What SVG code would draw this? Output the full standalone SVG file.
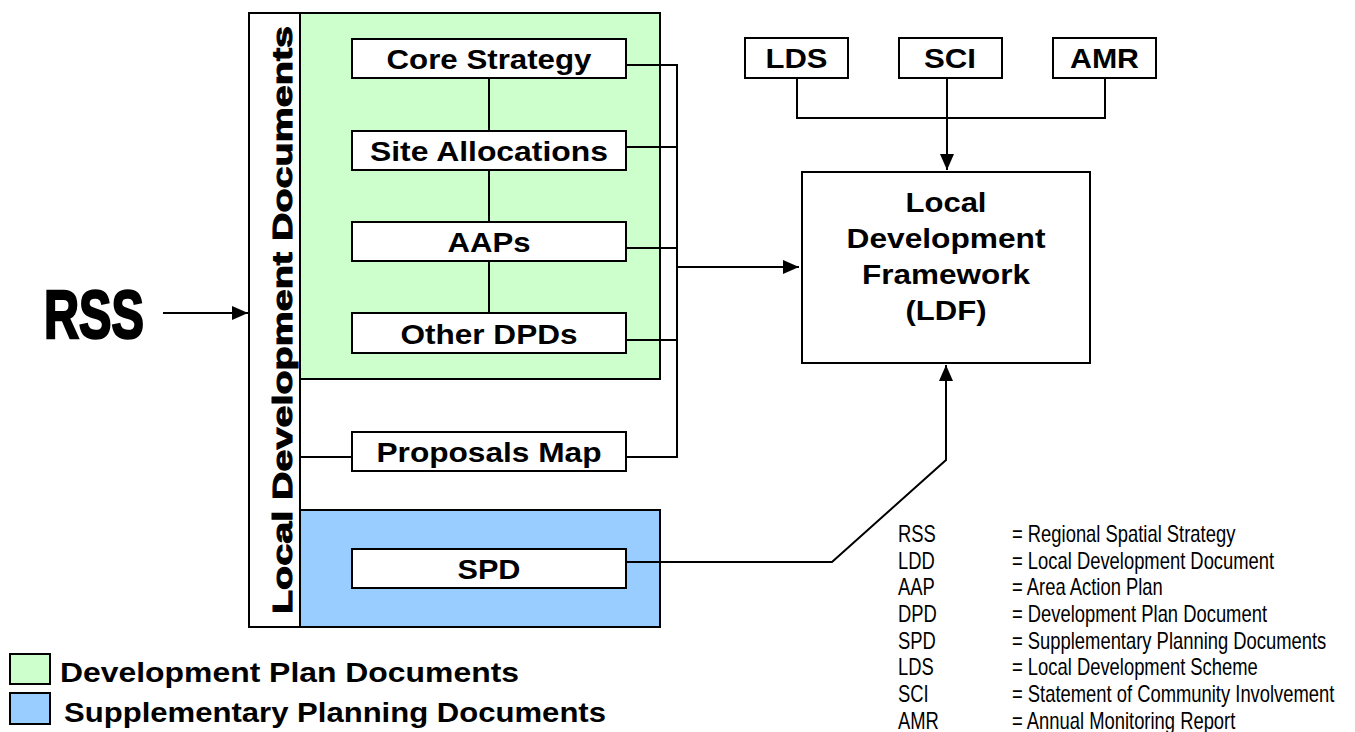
<svg xmlns="http://www.w3.org/2000/svg" width="1355" height="732" viewBox="0 0 1355 732">
<style>
.box{fill:#fff;stroke:#000;stroke-width:2}
.b{font-family:"Liberation Sans",Arial,sans-serif;font-weight:bold;font-size:28px;fill:#000;text-anchor:middle}
.ln{fill:none;stroke:#000;stroke-width:2}
.leg{font-family:"Liberation Sans",Arial,sans-serif;font-size:23px;fill:#000}
</style>
<defs>
<marker id="arr" markerUnits="userSpaceOnUse" markerWidth="18" markerHeight="14" refX="16" refY="7" orient="auto">
<path d="M0,0 L16,7 L0,14 Z" fill="#000"/>
</marker>
</defs>
<rect width="1355" height="732" fill="#fff"/>

<g id="rss">
<text x="94" y="338" font-family="'Liberation Sans',Arial,sans-serif" font-weight="bold" font-size="68" text-anchor="middle" stroke="#000" stroke-width="2.5" textLength="100" lengthAdjust="spacingAndGlyphs">RSS</text>
</g>

<g id="ldd-strip">
<rect class="box" x="249" y="13" width="51" height="614"/>
<text class="b" transform="translate(292,320) rotate(-90)" x="0" y="0" font-size="35" stroke="#000" stroke-width="1" textLength="588" lengthAdjust="spacingAndGlyphs">Local Development Documents</text>
</g>

<g id="dpd-area"><rect x="300" y="13" width="360" height="366" fill="#CCFFCC" stroke="#000" stroke-width="2"/></g>
<g id="spd-area"><rect x="300" y="510" width="360" height="117" fill="#99CCFF" stroke="#000" stroke-width="2"/></g>

<g id="connectors">
<line class="ln" x1="163" y1="313" x2="248" y2="313" marker-end="url(#arr)"/>
<line class="ln" x1="489" y1="78" x2="489" y2="131"/>
<line class="ln" x1="489" y1="170" x2="489" y2="222"/>
<line class="ln" x1="489" y1="261" x2="489" y2="313"/>
<line class="ln" x1="626" y1="65" x2="677" y2="65"/>
<line class="ln" x1="626" y1="147" x2="677" y2="147"/>
<line class="ln" x1="626" y1="248" x2="677" y2="248"/>
<line class="ln" x1="626" y1="340" x2="677" y2="340"/>
<polyline class="ln" points="626,457 677,457 677,64"/>
<line class="ln" x1="676" y1="267" x2="799" y2="267" marker-end="url(#arr)"/>
<line class="ln" x1="300" y1="457" x2="352" y2="457"/>
<polyline class="ln" points="626,562 832,562 946,460 946,365" marker-end="url(#arr)"/>
<polyline class="ln" points="797,78 797,118 1105,118 1105,78"/>
<line class="ln" x1="947" y1="78" x2="947" y2="170" marker-end="url(#arr)"/>
</g>

<g id="core-strategy"><rect class="box" x="352" y="39" width="274" height="39"/><text class="b" x="489" y="69" textLength="205" lengthAdjust="spacingAndGlyphs">Core Strategy</text></g>
<g id="site-allocations"><rect class="box" x="352" y="131" width="274" height="39"/><text class="b" x="489" y="160.5" textLength="238" lengthAdjust="spacingAndGlyphs">Site Allocations</text></g>
<g id="aaps"><rect class="box" x="352" y="222" width="274" height="39"/><text class="b" x="489" y="252" textLength="83" lengthAdjust="spacingAndGlyphs">AAPs</text></g>
<g id="other-dpds"><rect class="box" x="352" y="313" width="274" height="40"/><text class="b" x="489" y="344" textLength="177" lengthAdjust="spacingAndGlyphs">Other DPDs</text></g>
<g id="proposals-map"><rect class="box" x="352" y="432" width="274" height="39"/><text class="b" x="489" y="462" textLength="225" lengthAdjust="spacingAndGlyphs">Proposals Map</text></g>
<g id="spd"><rect class="box" x="352" y="549" width="274" height="39"/><text class="b" x="489" y="579" textLength="63" lengthAdjust="spacingAndGlyphs">SPD</text></g>

<g id="lds"><rect class="box" x="745" y="38" width="103" height="40"/><text class="b" x="796.5" y="68" textLength="62" lengthAdjust="spacingAndGlyphs">LDS</text></g>
<g id="sci"><rect class="box" x="899" y="38" width="103" height="40"/><text class="b" x="950" y="68" textLength="52" lengthAdjust="spacingAndGlyphs">SCI</text></g>
<g id="amr"><rect class="box" x="1053" y="38" width="103" height="40"/><text class="b" x="1104.5" y="68" textLength="69" lengthAdjust="spacingAndGlyphs">AMR</text></g>

<g id="ldf">
<rect class="box" x="802" y="172" width="288" height="191"/>
<text class="b" x="946" y="212" textLength="81" lengthAdjust="spacingAndGlyphs">Local</text>
<text class="b" x="946" y="248" textLength="199" lengthAdjust="spacingAndGlyphs">Development</text>
<text class="b" x="946" y="284" textLength="168" lengthAdjust="spacingAndGlyphs">Framework</text>
<text class="b" x="946" y="320" textLength="81" lengthAdjust="spacingAndGlyphs">(LDF)</text>
</g>

<g id="legend-colours">
<rect x="10" y="654" width="40" height="30" fill="#CCFFCC" stroke="#000" stroke-width="2"/>
<text class="b" x="60" y="682" text-anchor="start" style="text-anchor:start" textLength="459" lengthAdjust="spacingAndGlyphs">Development Plan Documents</text>
<rect x="10" y="693" width="40" height="31" fill="#99CCFF" stroke="#000" stroke-width="2"/>
<text class="b" x="64" y="722" style="text-anchor:start" textLength="542" lengthAdjust="spacingAndGlyphs">Supplementary Planning Documents</text>
</g>

<g id="legend-abbrev" transform="scale(0.8,1)">
<text class="leg" x="1122.5" y="542">RSS</text><text class="leg" x="1265" y="542">= Regional Spatial Strategy</text>
<text class="leg" x="1122.5" y="568.7">LDD</text><text class="leg" x="1265" y="568.7">= Local Development Document</text>
<text class="leg" x="1122.5" y="595.3">AAP</text><text class="leg" x="1265" y="595.3">= Area Action Plan</text>
<text class="leg" x="1122.5" y="622">DPD</text><text class="leg" x="1265" y="622">= Development Plan Document</text>
<text class="leg" x="1122.5" y="648.7">SPD</text><text class="leg" x="1265" y="648.7">= Supplementary Planning Documents</text>
<text class="leg" x="1122.5" y="675.3">LDS</text><text class="leg" x="1265" y="675.3">= Local Development Scheme</text>
<text class="leg" x="1122.5" y="702">SCI</text><text class="leg" x="1265" y="702">= Statement of Community Involvement</text>
<text class="leg" x="1122.5" y="728.7">AMR</text><text class="leg" x="1265" y="728.7">= Annual Monitoring Report</text>
</g>
</svg>
